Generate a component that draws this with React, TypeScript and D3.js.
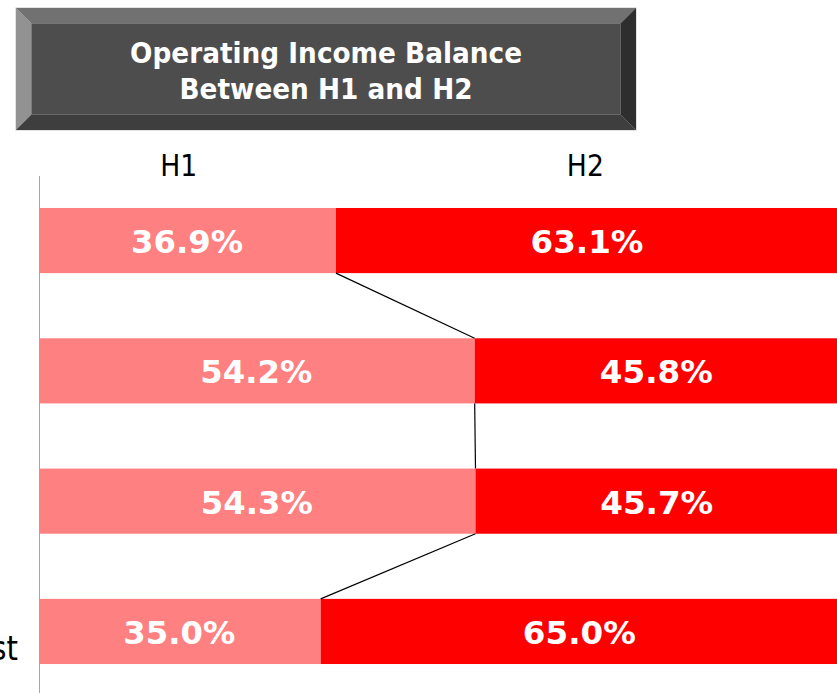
import * as d3 from 'd3';

// rows top -> bottom
const rows = ['r1', 'r2', 'r3', 'forecast'];
const rowLabels = ['', '', '', 'Forecast'];
const h1Share = [36.9, 54.2, 54.3, 35.0];
const h2Share = [63.1, 45.8, 45.7, 65.0];
const seriesNames = ['H1', 'H2'];
const titleLines = ['Operating Income Balance', 'Between H1 and H2'];

const W = 837;
const H = 693;
const FONT = '"DejaVu Sans", Verdana, sans-serif';
const SX = 0.86; // squeeze DejaVu toward a Tahoma-like width

const x = d3.scaleLinear().domain([0, 100]).range([40, 842]);
const y = d3
  .scaleBand<string>()
  .domain(rows)
  .range([175.4, 696.6])
  .paddingInner(0.5)
  .paddingOuter(0.25);

const fmt = (v: number) => `${v.toFixed(1)}%`;

const Txt = ({ x, y, size, weight = 'normal', fill = '#000', anchor = 'middle', children, len, sx = SX }: any) => (
  <g transform={`translate(${x},${y}) scale(${sx},1)`}>
    <text
      fontFamily={FONT}
      fontSize={size}
      fontWeight={weight}
      fill={fill}
      textAnchor={anchor}
      {...(len ? { textLength: len / sx, lengthAdjust: 'spacingAndGlyphs' } : {})}
    >
      {children}
    </text>
  </g>
);

const TitleBox = () => {
  const x0 = 16, y0 = 8, x1 = 636, y1 = 130, b = 15.5;
  const cx = (x0 + x1) / 2;
  return (
    <g>
      <rect x={x0 - 0.5} y={y0 - 0.5} width={x1 - x0 + 1} height={y1 - y0 + 1} fill="#c8c8c8" />
      <polygon points={`${x0},${y0} ${x1},${y0} ${x1 - b},${y0 + b} ${x0 + b},${y0 + b}`} fill="#717171" />
      <polygon points={`${x0},${y0} ${x0 + b},${y0 + b} ${x0 + b},${y1 - b} ${x0},${y1}`} fill="#929292" />
      <polygon points={`${x1},${y0} ${x1},${y1} ${x1 - b},${y1 - b} ${x1 - b},${y0 + b}`} fill="#2e2e2e" />
      <polygon points={`${x0},${y1} ${x0 + b},${y1 - b} ${x1 - b},${y1 - b} ${x1},${y1}`} fill="#3e3e3e" />
      <rect x={x0 + b} y={y0 + b} width={x1 - x0 - 2 * b} height={y1 - y0 - 2 * b} fill="#4d4d4d" />
      <Txt x={cx} y={63} size={28} weight="bold" fill="#fff" len={392}>{titleLines[0]}</Txt>
      <Txt x={cx} y={99} size={28} weight="bold" fill="#fff" len={293}>{titleLines[1]}</Txt>
    </g>
  );
};

export default function App() {
  const bw = y.bandwidth();
  const headerX = [x(17.3), x(68)];

  return (
    <svg width={W} height={H} style={{ position: 'absolute', left: 0, top: 0, background: '#fff' }}>
      <TitleBox />

      {seriesNames.map((s, i) => (
        <Txt key={s} x={headerX[i]} y={176} size={31}>{s}</Txt>
      ))}

      {/* axis */}
      <line x1={39.5} x2={39.5} y1={176} y2={H} stroke="#a6a6a6" strokeWidth={1} />

      {rows.map((r, i) => {
        const top = y(r)!;
        const mid = top + bw / 2;
        return (
          <g key={r}>
            <rect x={x(0)} y={top} width={x(h1Share[i]) - x(0)} height={bw} fill="#ff8080" />
            <rect x={x(h1Share[i])} y={top} width={x(h1Share[i] + h2Share[i]) - x(h1Share[i])} height={bw} fill="#ff0000" />
            <Txt x={(x(0) + x(h1Share[i])) / 2 - 1} y={mid + 12.5} size={32} weight="bold" fill="#fff" len={112}>{fmt(h1Share[i])}</Txt>
            <Txt x={(x(h1Share[i]) + x(100)) / 2 - 2} y={mid + 12.5} size={32} weight="bold" fill="#fff" len={113}>{fmt(h2Share[i])}</Txt>
            {rowLabels[i] && (
              <Txt x={18} y={mid + 29} size={34} anchor="end">{rowLabels[i]}</Txt>
            )}
          </g>
        );
      })}

      {/* connector lines between H1/H2 split points */}
      {rows.slice(1).map((r, i) => (
        <line
          key={r}
          x1={x(h1Share[i])}
          y1={y(rows[i])! + bw}
          x2={x(h1Share[i + 1])}
          y2={y(r)!}
          stroke="#000"
          strokeWidth={1.2}
        />
      ))}
    </svg>
  );
}
